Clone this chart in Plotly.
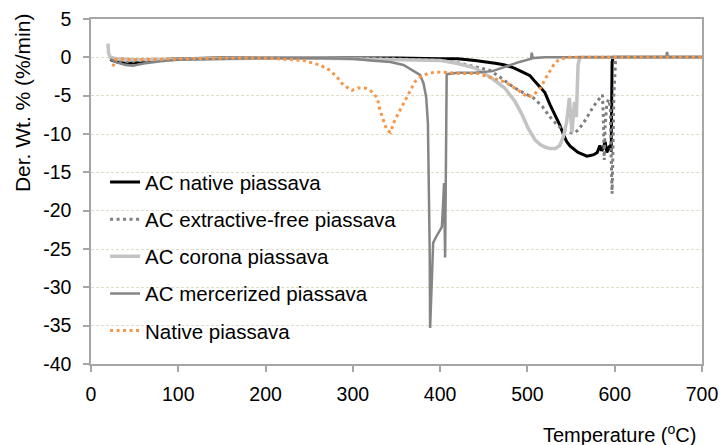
import plotly.graph_objects as go

# ---------------- data ----------------
native_ac_T = [22, 30, 40, 50, 60, 80, 100, 150, 200, 250, 300, 350, 400, 420, 440, 455, 465, 474,
               485, 494, 503, 509, 515, 520, 526, 532, 537, 541, 545, 549, 553, 558, 564, 568, 572,
               576, 580, 583, 585, 587, 589, 591, 593, 595, 596, 597, 598, 600, 620, 650, 680, 700]
native_ac_y = [-0.3, -0.6, -0.8, -0.7, -0.5, -0.3, -0.2, -0.1, -0.1, -0.1, -0.1, -0.1, -0.2, -0.2,
               -0.4, -0.6, -0.8, -1.0, -1.4, -1.9, -2.4, -3.2, -4.0, -4.6, -6.2, -7.6, -8.8, -10.0,
               -11.0, -11.6, -12.0, -12.4, -12.7, -12.9, -12.8, -12.7, -12.4, -11.5, -12.2, -11.8,
               -11.0, -12.4, -11.8, -11.5, -12.3, -0.6, 0.0, 0.0, 0.0, 0.0, 0.0, 0.0]

extractive_T = [25, 40, 60, 100, 150, 200, 250, 300, 350, 400, 420, 440, 457, 470, 484, 495, 507,
                517, 526, 534, 541, 547, 553, 558, 564, 570, 575, 581, 586, 587, 588, 589, 591, 593,
                595, 596, 597, 598, 599, 601, 603, 620, 650, 700]
extractive_y = [-0.3, -0.6, -0.4, -0.2, -0.1, -0.1, -0.1, -0.1, -0.2, -0.4, -0.7, -1.2, -1.7, -2.7,
                -3.9, -4.6, -5.3, -6.4, -7.8, -8.8, -9.5, -9.8, -9.9, -9.5, -8.6, -7.5, -6.5, -5.6,
                -4.9, -8.0, -13.4, -9.0, -6.0, -5.5, -6.5, -13.0, -17.8, -12.0, -5.0, -0.5, 0.0,
                0.0, 0.0, 0.0]

corona_T = [19.5, 20, 22, 30, 50, 100, 150, 200, 250, 300, 350, 400, 420, 440, 459, 474, 486, 494,
            501, 509, 515, 520, 526, 532, 537, 541, 545, 548, 551, 554, 556, 557, 558, 560, 580,
            620, 700]
corona_y = [1.8, 0.6, 0.0, -0.2, -0.3, -0.2, -0.1, -0.1, -0.1, -0.2, -0.3, -0.4, -0.8, -1.4, -2.7,
            -4.0, -5.8, -7.5, -9.3, -10.8, -11.4, -11.7, -11.9, -11.9, -11.5, -10.4, -8.4, -5.3,
            -9.8, -5.8, -7.8, -5.5, -1.0, 0.0, 0.0, 0.0, 0.0]

mercerized_T = [22, 30, 40, 48, 60, 80, 100, 150, 200, 250, 300, 320, 343, 358, 369, 377, 381, 384,
                386, 387, 388, 388.5, 390, 391, 392, 395, 398, 402, 403, 404.5, 405.7, 407.5, 420,
                440, 460, 472, 491, 504, 505, 506, 520, 560, 600, 640, 659, 660, 661, 700]
mercerized_y = [-0.2, -0.7, -1.0, -1.1, -0.8, -0.5, -0.3, -0.2, -0.1, -0.1, -0.2, -0.4, -0.6, -1.0,
                -1.7, -2.3, -3.4, -5.2, -8.6, -15.0, -25.0, -35.3, -30.0, -27.7, -24.2, -23.5,
                -22.9, -22.1, -20.0, -16.4, -26.1, -2.2, -2.0, -2.0, -1.8, -1.3, -0.6, -0.2, 0.6,
                -0.1, 0.0, 0.0, 0.0, 0.0, 0.0, 0.7, 0.0, 0.0]

native_T = [25, 28, 35, 50, 100, 150, 200, 243, 262, 274, 282, 289, 299, 306, 314, 322, 328, 331,
            335, 339, 343, 348, 354, 360, 366, 371, 377, 386, 396, 410, 423, 442, 461, 474, 484,
            494, 501, 507, 515, 522, 530, 535, 545, 600, 650, 700]
native_y = [-1.2, -0.3, -0.2, -0.3, -0.2, -0.1, -0.1, -0.4, -1.0, -1.7, -2.6, -3.6, -4.3, -4.0,
            -4.0, -4.5, -5.3, -6.9, -8.2, -9.5, -9.8, -8.2, -6.9, -5.6, -4.3, -3.2, -2.6, -2.1,
            -1.9, -2.0, -2.1, -2.1, -2.7, -3.2, -3.9, -4.7, -5.2, -4.9, -4.0, -2.5, -1.0, -0.4,
            0.0, 0.0, 0.0, 0.0]

series_names = ["AC native piassava", "AC extractive-free piassava", "AC corona piassava",
                "AC mercerized piassava", "Native piassava"]

x_ticks = [0, 100, 200, 300, 400, 500, 600, 700]
y_ticks = [5, 0, -5, -10, -15, -20, -25, -30, -35, -40]

# ---------------- figure ----------------
FONT = "Liberation Sans, Arial, sans-serif"
fig = go.Figure()

styles = [
    (native_ac_T, native_ac_y, dict(color="#000000", width=3)),
    (extractive_T, extractive_y, dict(color="#7f7f7f", width=3, dash="3px,3.5px")),
    (corona_T, corona_y, dict(color="#c3c3c3", width=3.5)),
    (mercerized_T, mercerized_y, dict(color="#858585", width=2.5)),
    (native_T, native_y, dict(color="#f79646", width=3, dash="3px,3.5px")),
]
for i, (xs, ys, ln) in enumerate(styles):
    fig.add_trace(go.Scatter(x=xs, y=ys, mode="lines", name=series_names[i], line=ln,
                             legendgroup=f"g{i}"))

axis_common = dict(showline=True, linecolor="#a6a6a6", linewidth=1.5, mirror=True,
                   ticks="outside", ticklen=6, tickcolor="#a6a6a6", tickwidth=1.5,
                   automargin=False,
                   tickfont=dict(family=FONT, size=19.5, color="#000000"))

fig.update_xaxes(range=[0, 700], tickvals=x_ticks, ticktext=[str(v) for v in x_ticks],
                 showgrid=False, zeroline=False, ticklabelstandoff=6, **axis_common)
fig.update_yaxes(range=[-40, 5], tickvals=y_ticks, ticktext=[str(v) for v in y_ticks],
                 showgrid=True, gridcolor="#deddcc",
                 griddash="3px,2px", gridwidth=1, zeroline=False, ticklabelstandoff=8,
                 **axis_common)

fig.update_layout(
    width=721, height=445,
    margin=dict(l=91, r=19, t=19, b=81, autoexpand=False),
    paper_bgcolor="white", plot_bgcolor="white",
    font=dict(family=FONT, color="#000000"),
    showlegend=True,
    legend=dict(x=0.023, y=0.585, xanchor="left", yanchor="top",
                bgcolor="rgba(0,0,0,0)", font=dict(family=FONT, size=20.5, color="#000000"),
                traceorder="grouped", tracegroupgap=7.5, itemwidth=30),
    annotations=[
        dict(text="Temperature (<sup>o</sup>C)", xref="paper", yref="paper", x=0.9935, y=-0.2,
             xanchor="right", yanchor="middle", showarrow=False,
             font=dict(family=FONT, size=20, color="#000000")),
        dict(text="Der. Wt. % (%/min)", xref="paper", yref="paper", x=-0.113, y=0.759,
             xanchor="center", yanchor="middle", textangle=-90, showarrow=False,
             font=dict(family=FONT, size=21, color="#000000")),
    ],
)

fig.write_html("out.html")
